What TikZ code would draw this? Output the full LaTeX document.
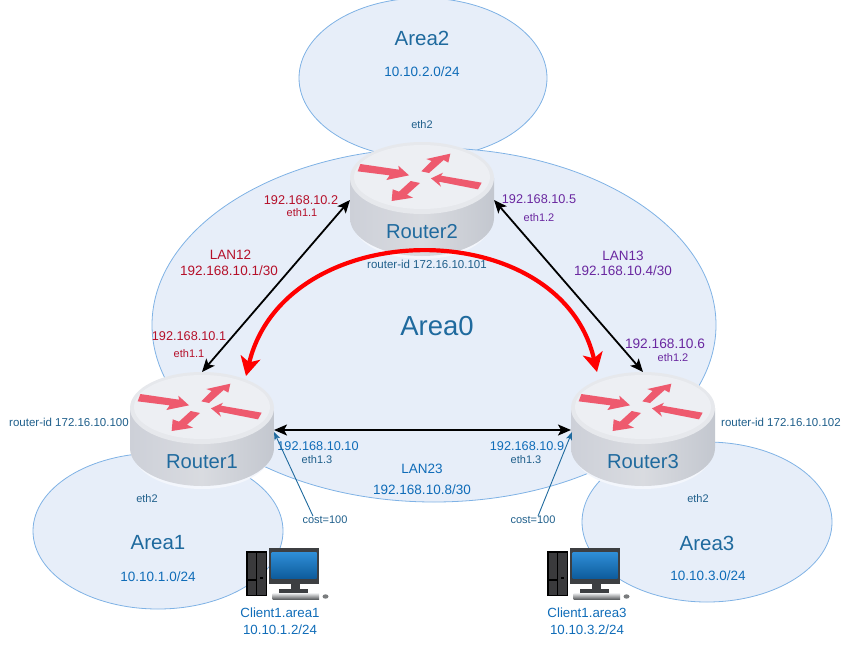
\documentclass[tikz,border=0pt]{standalone}
\usepackage{fontspec}
\setmainfont{Liberation Sans}
\usetikzlibrary{arrows.meta,calc}
\definecolor{areafill}{HTML}{E7EEF9}
\definecolor{arealine}{HTML}{7FB2E5}
\definecolor{deepblue}{HTML}{1F6A9E}
\definecolor{ipblue}{HTML}{0F6CB8}
\definecolor{idblue}{HTML}{1F5F8B}
\definecolor{lanred}{HTML}{B5102A}
\definecolor{lanpurple}{HTML}{6A28A0}
\definecolor{arrowpink}{HTML}{EE5A6E}
\definecolor{bodyl}{HTML}{CDD0D8}
\definecolor{bodym}{HTML}{D9DBE0}
\definecolor{bodyr}{HTML}{C3C7CF}
\definecolor{rimc}{HTML}{E6E8EC}
\definecolor{topc}{HTML}{EDEFF3}
\definecolor{towerc}{HTML}{3A3A3C}
\definecolor{monc}{HTML}{3D3F42}
\definecolor{scrtop}{HTML}{2F8FD8}
\definecolor{scrbot}{HTML}{0E5C9C}
\definecolor{keytop}{HTML}{E4E5E6}
\definecolor{keybot}{HTML}{55585A}
\definecolor{mousec}{HTML}{7A7C7E}
\tikzset{
  areashape/.style={draw=arealine,fill=areafill,line width=0.8pt},
  txt/.style={inner sep=0pt,outer sep=0pt,align=center},
  areaname/.style={txt,text=deepblue,font=\fontsize{20.5}{24}\selectfont},
  bignet/.style={txt,text=deepblue,font=\fontsize{27.5}{32}\selectfont},
  subnet/.style={txt,text=ipblue,font=\fontsize{13.5}{16}\selectfont},
  small/.style={txt,text=idblue,font=\fontsize{11}{13}\selectfont},
  ridtext/.style={txt,text=idblue,font=\fontsize{11.5}{14}\selectfont},
  redip/.style={txt,text=lanred,font=\fontsize{12.7}{15}\selectfont},
  redsm/.style={txt,text=lanred,font=\fontsize{11}{13}\selectfont},
  redlan/.style={txt,text=lanred,font=\fontsize{13.5}{16}\selectfont},
  purpip/.style={txt,text=lanpurple,font=\fontsize{12.7}{15}\selectfont},
  purpbig/.style={txt,text=lanpurple,font=\fontsize{13.7}{16}\selectfont},
  purpsm/.style={txt,text=lanpurple,font=\fontsize{11}{13}\selectfont},
  purplan/.style={txt,text=lanpurple,font=\fontsize{13.5}{16}\selectfont},
  blueip/.style={txt,text=ipblue,font=\fontsize{12.7}{15}\selectfont},
  routername/.style={txt,text=deepblue,font=\fontsize{20.2}{24}\selectfont},
  routerbox/.style={rectangle,minimum width=144pt,minimum height=116pt,inner sep=0pt,outer sep=0pt},
  link/.style={black,line width=1.8pt,{Stealth[length=13pt,width=11pt,inset=3pt]}-{Stealth[length=13pt,width=11pt,inset=3pt]}},
  costlink/.style={draw=deepblue,line width=0.9pt,-{Stealth[length=8pt,width=6pt,inset=2pt]}},
  ospf/.style={red,line width=4.2pt,{Stealth[length=19pt,width=20pt,inset=5pt]}-{Stealth[length=19pt,width=20pt,inset=5pt]}},
}
\newcommand{\routerart}[4]{%
  \node[routerbox] (#1) at (#2,#3) {};
  \begin{scope}[shift={(#2,#3)}]
    \fill[color=areafill!50!white] (-69,22) arc[start angle=180,end angle=0,x radius=69,y radius=37] -- cycle;
    \shade[left color=bodyl,right color=bodyr,middle color=bodym]
      (-72,-22) -- (-72,18) arc[start angle=180,end angle=0,x radius=72,y radius=38] -- (72,-22) -- cycle;
    \fill[color=rimc] (0,-22) ellipse[x radius=72,y radius=36];
    \fill[color=topc] (0,-23) ellipse[x radius=68,y radius=32];
  \end{scope}
  \begin{scope}[shift={(#2-82.33,#3-70.33)},scale=1/3]
    \fill[arrowpink] (62,103) -- (178,120) -- (176,108) -- (208,137) -- (140,151) -- (150,137) -- (54,125) -- cycle;
    \fill[arrowpink] (245,125) -- (276,94) -- (260,88) -- (332,72) -- (326,99) -- (312,91) -- (268,130) -- cycle;
    \fill[arrowpink] (274,146) -- (310,129) -- (304,138) -- (426,159) -- (415,179) -- (298,156) -- (304,171) -- cycle;
    \fill[arrowpink] (156,214) -- (159,179) -- (178,186) -- (213,154) -- (241,160) -- (202,195) -- (220,204) -- cycle;
  \end{scope}
  \node[routername] (#1name) at (#2,#3+32) {#4};
}
\newcommand{\computerart}[2]{%
  \begin{scope}[shift={(#1,#2)}]
    % tower
    \fill[black] (0,4) rectangle (21,49);
    \fill[color=towerc] (1.5,5.5) rectangle (9.5,32);
    \fill[color=towerc] (11,5.5) rectangle (19.5,47.5);
    \fill[color=towerc] (1.5,33.5) rectangle (9.5,47.5);
    \fill[black] (14,30) rectangle (17,32);
    % monitor
    \fill[color=monc] (23,1) rectangle (73,37);
    \shade[top color=scrtop,bottom color=scrbot] (25.5,5) rectangle (70.5,31);
    \fill[color=monc] (45,37) rectangle (54,42);
    \fill[color=monc] (33,42) rectangle (62,45.5);
    % keyboard and mouse
    \shade[top color=keytop,bottom color=keybot] (26.5,46.5) rectangle (73,52.5);
    \fill[color=mousec] (79.5,49.5) ellipse[x radius=3,y radius=2.2];
  \end{scope}
}
\begin{document}
\begin{tikzpicture}[x=1pt,y=-1pt]
\useasboundingbox (0,0) rectangle (865,659);
% areas
\draw[areashape] (423,78) ellipse[x radius=124,y radius=80];
\draw[areashape] (158,531) ellipse[x radius=125,y radius=78];
\draw[areashape] (707,522) ellipse[x radius=125,y radius=80];
\draw[areashape] (434,325) ellipse[x radius=282,y radius=177];
% routers
\routerart{rtwo}{422}{200}{Router2}
\routerart{rone}{202}{430}{Router1}
\routerart{rthree}{643}{430}{Router3}
% computers
\computerart{246}{547}
\computerart{547}{547}
% area labels
\node[areaname] (atwo) at (422,38) {Area2};
\node[subnet] (atwonet) at (422,72) {10.10.2.0/24};
\node[small] (atwoeth) at (422,125) {eth2};
\node[bignet] (azero) at (437,326) {Area0};
\node[areaname] (aone) at (158,543) {Area1};
\node[subnet] (aonenet) at (158,577) {10.10.1.0/24};
\node[small] (aoneeth) at (147,499) {eth2};
\node[areaname] (athree) at (707,543) {Area3};
\node[subnet] (athreenet) at (708,576) {10.10.3.0/24};
\node[small] (athreeeth) at (698,499) {eth2};
% router ids
\node[ridtext] (idtwo) at (427,264) {router-id 172.16.10.101};
\node[ridtext] (idone) at (69,422) {router-id 172.16.10.100};
\node[ridtext] (idthree) at (781,422) {router-id 172.16.10.102};
% LAN12
\node[redip] (iptwoa) at (301,200) {192.168.10.2};
\node[redsm] (ethtwoa) at (302,213) {eth1.1};
\node[redlan] (lanab) at (230.5,255) {LAN12};
\node[redlan] (lanabnet) at (229,270.5) {192.168.10.1/30};
\node[redip] (iponea) at (189,336) {192.168.10.1};
\node[redsm] (ethonea) at (189,354) {eth1.1};
% LAN13
\node[purpip] (iptwob) at (539,199) {192.168.10.5};
\node[purpsm] (ethtwob) at (539,218) {eth1.2};
\node[purplan] (lanac) at (623,256) {LAN13};
\node[purplan] (lanacnet) at (623,271) {192.168.10.4/30};
\node[purpbig] (ipthreeb) at (665,344) {192.168.10.6};
\node[purpsm] (eththreeb) at (673,358) {eth1.2};
% LAN23
\node[blueip] (iponec) at (318,446) {192.168.10.10};
\node[small] (ethonec) at (317,460) {eth1.3};
\node[blueip] (ipthreec) at (527,446) {192.168.10.9};
\node[small] (eththreec) at (526,460) {eth1.3};
\node[subnet] (lanbc) at (422,469) {LAN23};
\node[subnet] (lanbcnet) at (422,490) {192.168.10.8/30};
% costs
\node[small] (costone) at (325,520) {cost=100};
\node[small] (costthree) at (533,520) {cost=100};
% clients
\node[subnet,font=\fontsize{13.3}{16}\selectfont] (clientone) at (280,613) {Client1.area1};
\node[subnet,font=\fontsize{13.3}{16}\selectfont] (clientonenet) at (280,630) {10.10.1.2/24};
\node[subnet,font=\fontsize{13.3}{16}\selectfont] (clientthree) at (587,613) {Client1.area3};
\node[subnet,font=\fontsize{13.3}{16}\selectfont] (clientthreenet) at (587,630) {10.10.3.2/24};
% connectors
\draw[link] (rone.north) -- (rtwo.west);
\draw[link] (rtwo.east) -- (rthree.north);
\draw[link] (rone.east) -- (rthree.west);
\draw[costlink] ($(costone.north)+(-12,0)$) -- ($(rone.east)+(0,2)$);
\draw[costlink] ($(costthree.north)+(5,0)$) -- ($(rthree.west)+(1,2)$);
\coordinate (ospfl) at ($(rone.north)+(44,4)$);
\coordinate (ospfr) at ($(rthree.north)+(-46,0)$);
\draw[ospf] (ospfl) .. controls ($(ospfl)+(39,-162)$) and ($(ospfr)+(-37,-160)$) .. (ospfr);
\end{tikzpicture}
\end{document}
